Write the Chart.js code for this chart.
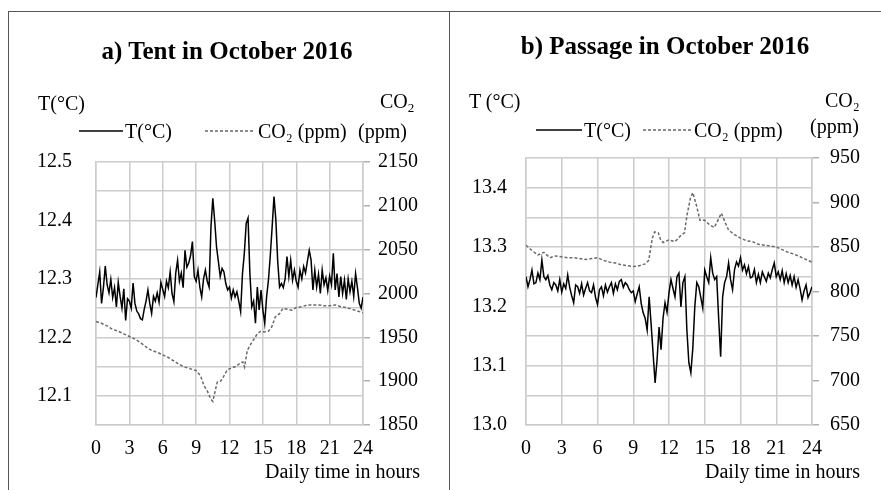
<!DOCTYPE html>
<html>
<head>
<meta charset="utf-8">
<script src="https://cdn.jsdelivr.net/npm/chart.js@4.4.1/dist/chart.umd.min.js"></script>
<style>
  body { margin: 0; background: #fff; }
  #page { position: relative; width: 881px; height: 490px; overflow: hidden; font-family: "Liberation Serif", "Times New Roman", serif; color: #000; }
  .frame { position: absolute; border-top: 1.5px solid #555; border-left: 1.5px solid #555; }
  canvas { position: absolute; }
  .t { position: absolute; white-space: nowrap; line-height: 1; font-size: 20px; transform: translateY(-50%); }
  .ctr { transform: translate(-50%, -50%); }
  .ttl { font-weight: bold; font-size: 25px; }
  svg { position: absolute; overflow: visible; }
  sub { font-size: 13px; vertical-align: -4px; line-height: 0; }
</style>
</head>
<body>
<div id="page">
  <div class="frame" style="left:8px; top:11px; width:440px; height:490px;"></div>
  <div class="frame" style="left:449px; top:11px; width:440px; height:490px;"></div>

  <canvas id="tentChart" width="441" height="479" style="left:8px; top:11px;"></canvas>
  <canvas id="passageChart" width="432" height="479" style="left:449px; top:11px;"></canvas>

  <!-- panel a texts -->
  <div class="t ctr ttl" style="left:227px; top:50px;">a) Tent in October 2016</div>
  <div class="t" style="left:38px; top:103px;">T(°C)</div>
  <svg style="left:0; top:0;" width="881" height="490">
    <line x1="79" y1="131" x2="123" y2="131" stroke="#000" stroke-width="1.5"/>
    <line x1="205" y1="131" x2="255" y2="131" stroke="#666" stroke-width="1.5" stroke-dasharray="3,2"/>
    <line x1="536" y1="130" x2="582" y2="130" stroke="#000" stroke-width="1.5"/>
    <line x1="643" y1="130" x2="692" y2="130" stroke="#666" stroke-width="1.5" stroke-dasharray="3,2"/>
  </svg>
  <div class="t" style="left:125px; top:131px;">T(°C)</div>
  <div class="t" style="left:258px; top:131px;">CO₂ (ppm)</div>
  <div class="t" style="left:380px; top:101px;">CO<sub>2</sub></div>
  <div class="t" style="left:358px; top:131px;">(ppm)</div>
  <div class="t" style="left:265px; top:471px;">Daily time in hours</div>

  <!-- panel b texts -->
  <div class="t ctr ttl" style="left:665px; top:45px;">b) Passage in October 2016</div>
  <div class="t" style="left:469px; top:101px;">T (°C)</div>
  <div class="t" style="left:584px; top:130px;">T(°C)</div>
  <div class="t" style="left:694px; top:130px;">CO₂ (ppm)</div>
  <div class="t" style="left:825px; top:100px;">CO₂</div>
  <div class="t" style="left:810px; top:126px;">(ppm)</div>
  <div class="t" style="left:705px; top:471px;">Daily time in hours</div>
</div>

<script>
// hour ticks on the x axis
const hourTicks = [0, 3, 6, 9, 12, 15, 18, 21, 24];

// temperature logged every 10 minutes, 0..24 h
const tHours = Array.from({ length: 145 }, (_, i) => i / 6);

const tentTemp = [
  12.268,12.290,12.312,12.258,12.285,12.322,12.290,12.276,12.299,12.268,12.285,12.252,
  12.294,12.270,12.250,12.283,12.229,12.266,12.262,12.250,12.293,12.258,12.245,12.240,
  12.232,12.230,12.248,12.262,12.281,12.258,12.241,12.270,12.262,12.276,12.260,12.294,
  12.282,12.270,12.296,12.285,12.312,12.275,12.261,12.310,12.332,12.296,12.310,12.285,
  12.349,12.320,12.327,12.340,12.364,12.304,12.296,12.315,12.286,12.269,12.300,12.315,
  12.296,12.286,12.389,12.438,12.400,12.355,12.330,12.304,12.318,12.312,12.292,12.281,
  12.286,12.267,12.281,12.269,12.278,12.262,12.244,12.309,12.344,12.395,12.404,12.309,
  12.252,12.262,12.224,12.286,12.247,12.281,12.247,12.224,12.269,12.298,12.340,12.389,
  12.441,12.401,12.330,12.286,12.292,12.285,12.300,12.338,12.304,12.332,12.298,12.315,
  12.296,12.286,12.315,12.300,12.321,12.310,12.330,12.349,12.332,12.281,12.315,12.286,
  12.308,12.275,12.315,12.290,12.302,12.280,12.305,12.290,12.344,12.281,12.309,12.269,
  12.304,12.275,12.298,12.265,12.300,12.278,12.296,12.270,12.309,12.285,12.258,12.250,
  12.269
];

const tentCo2Hours = [0,0.5,1,1.5,2,2.5,3,3.5,4,4.5,5,5.5,6,6.5,7,7.5,8,8.5,9,9.4,9.7,10,10.3,10.5,10.7,10.9,11.2,11.5,11.8,12.2,12.6,13.0,13.2,13.35,13.6,13.9,14.2,14.5,14.8,15.1,15.5,15.8,16.1,16.5,16.8,17.2,17.6,18,18.5,19,19.5,20,20.5,21,21.5,22,22.5,23,23.5,24];
const tentCo2 = [1968,1966,1963,1959,1957,1954,1951,1948,1944,1939,1935,1933,1930,1927,1923,1919,1916,1914,1912,1906,1895,1889,1880,1877,1888,1899,1900,1906,1913,1915,1917,1921,1922,1916,1935,1942,1948,1954,1957,1956,1957,1962,1973,1977,1983,1982,1981,1984,1985,1987,1987,1987,1986,1986,1987,1985,1984,1982,1980,1978];

const passageTemp = [
  13.250,13.233,13.245,13.261,13.238,13.240,13.256,13.245,13.278,13.250,13.245,13.252,
  13.236,13.228,13.240,13.236,13.226,13.245,13.224,13.238,13.230,13.253,13.232,13.218,
  13.206,13.236,13.233,13.222,13.238,13.219,13.230,13.240,13.226,13.223,13.236,13.215,
  13.203,13.228,13.233,13.218,13.236,13.224,13.233,13.240,13.222,13.238,13.228,13.242,
  13.245,13.232,13.240,13.236,13.228,13.223,13.226,13.208,13.221,13.233,13.205,13.189,
  13.180,13.160,13.216,13.170,13.120,13.071,13.110,13.165,13.127,13.180,13.206,13.190,
  13.223,13.245,13.230,13.216,13.250,13.256,13.199,13.240,13.250,13.160,13.105,13.088,
  13.130,13.200,13.240,13.233,13.215,13.197,13.261,13.250,13.240,13.282,13.256,13.245,
  13.250,13.180,13.115,13.216,13.240,13.250,13.273,13.245,13.228,13.262,13.275,13.268,
  13.282,13.261,13.270,13.255,13.267,13.248,13.250,13.262,13.240,13.254,13.240,13.258,
  13.250,13.242,13.256,13.248,13.262,13.273,13.250,13.258,13.245,13.260,13.240,13.255,
  13.240,13.252,13.236,13.250,13.232,13.245,13.230,13.211,13.226,13.236,13.215,13.223,
  13.233
];

const passageCo2Hours = [0,0.5,1,1.5,2,2.5,3,3.5,4,4.5,5,5.5,6,6.5,7,7.5,8,8.5,9,9.5,10,10.3,10.6,10.8,11.1,11.3,11.5,12,12.5,13,13.3,13.5,13.8,14,14.3,14.6,15,15.4,15.8,16.1,16.4,16.7,17,17.5,18,18.5,19,19.5,20,20.5,21,21.5,22,22.5,23,23.5,24];
const passageCo2 = [852,846,841,844,838,840,839,838,838,837,836,837,838,835,833,832,830,829,828,829,831,835,860,867,866,858,855,858,856,863,866,885,905,911,897,880,880,875,872,880,888,878,869,864,860,857,856,853,852,851,850,847,844,842,839,836,833];

const gridGrey = '#cccccc';
const tickFont = { family: '"Liberation Serif", "Times New Roman", serif', size: 20 };

function pairs(xs, ys) {
    return xs.map((h, i) => ({ x: h, y: ys[i] }));
}

function drawPanel(id, p) {
    new Chart(document.getElementById(id), {
        type: 'line',
        data: {
            datasets: [
                {
                    label: 'T(°C)',
                    data: pairs(tHours, p.temp),
                    yAxisID: 'yT',
                    borderColor: '#000',
                    borderWidth: 1.5,
                    pointRadius: 0,
                    tension: 0
                },
                {
                    label: 'CO₂ (ppm)',
                    data: pairs(p.co2Hours, p.co2),
                    yAxisID: 'yC',
                    borderColor: '#6a6a6a',
                    borderWidth: 1.5,
                    borderDash: [3, 2],
                    pointRadius: 0,
                    tension: 0
                }
            ]
        },
        options: {
            responsive: false,
            animation: false,
            layout: { padding: { top: p.top, left: 0, right: 0, bottom: 0 } },
            plugins: { legend: { display: false }, tooltip: { enabled: false } },
            scales: {
                x: {
                    type: 'linear', min: 0, max: 24,
                    afterBuildTicks: s => { s.ticks = hourTicks.map(v => ({ value: v })); },
                    ticks: { font: tickFont, color: '#000', padding: 12, maxRotation: 0, autoSkip: false },
                    grid: { color: gridGrey, lineWidth: 1.5, drawTicks: false },
                    border: { color: gridGrey, width: 1.5 },
                    afterFit: s => { s.height = 65; }
                },
                yT: {
                    position: 'left', min: p.tMin, max: p.tMax,
                    ticks: {
                        stepSize: 0.05, autoSkip: false, font: tickFont, color: '#000', padding: p.leftPad,
                        callback: v => (Math.round(v * 100) % 10 === 0 ? v.toFixed(1) : '')
                    },
                    grid: { color: gridGrey, lineWidth: 1.5, drawTicks: false },
                    border: { color: gridGrey, width: 1.5 },
                    afterFit: s => { s.width = p.leftW; }
                },
                yC: {
                    position: 'right', min: p.cMin, max: p.cMax,
                    ticks: {
                        stepSize: 50, autoSkip: false, font: tickFont, color: '#000', padding: p.rightPad,
                        callback: v => String(v)
                    },
                    grid: { drawOnChartArea: false, color: '#b0b0b0', lineWidth: 1.5, tickLength: 7 },
                    border: { color: gridGrey, width: 1.5 },
                    afterFit: s => { s.width = p.rightW; }
                }
            }
        }
    });
}

drawPanel('tentChart', {
    temp: tentTemp, co2Hours: tentCo2Hours, co2: tentCo2,
    tMin: 12.05, tMax: 12.5, cMin: 1850, cMax: 2150,
    top: 151, leftW: 88, rightW: 86, leftPad: 24, rightPad: 8
});

drawPanel('passageChart', {
    temp: passageTemp, co2Hours: passageCo2Hours, co2: passageCo2,
    tMin: 13.0, tMax: 13.45, cMin: 650, cMax: 950,
    top: 147, leftW: 77, rightW: 69, leftPad: 19, rightPad: 11
});
</script>
</body>
</html>
